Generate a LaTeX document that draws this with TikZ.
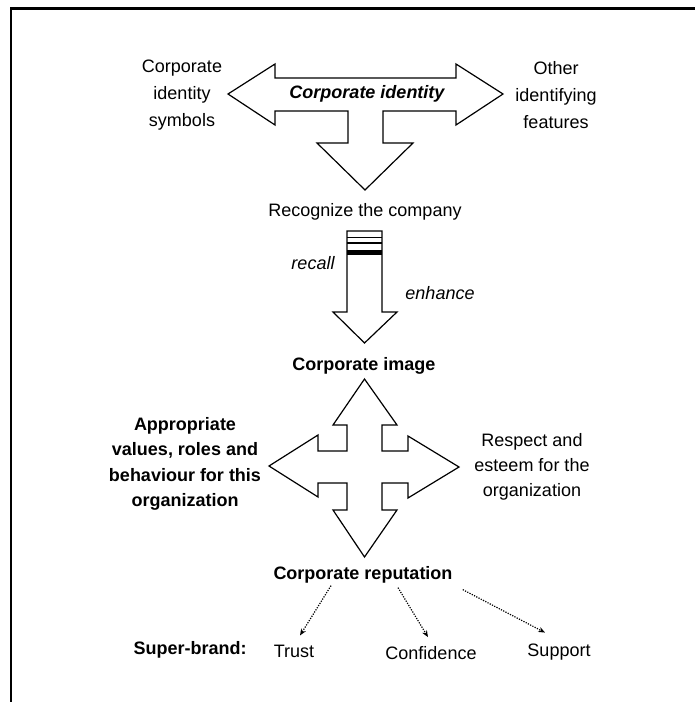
\documentclass[tikz,border=0pt]{standalone}
\usepackage{fontspec}
\setmainfont{Liberation Sans}
\usepackage{tikz}
\usetikzlibrary{arrows.meta,calc}

\tikzset{
  txt/.style={inner sep=0.75pt, align=center, font=\fontsize{13.5}{19}\selectfont},
  txtb/.style={txt, font=\fontsize{13.5}{19}\selectfont\bfseries},
  txti/.style={txt, font=\fontsize{13.5}{19}\selectfont\itshape},
  bigarrow/.style={line width=0.9pt, line join=miter, fill=white},
  dotlink/.style={densely dotted, line width=0.9pt, -{Stealth[length=5pt,width=4pt]}}
}

\begin{document}
\begin{tikzpicture}[x=0.75pt,y=0.75pt,yscale=-1,xscale=1]
\useasboundingbox (0,0) rectangle (695,702);

%Shape: Frame
\draw [line width=1.6pt] (11,702) -- (11,8.5) -- (695,8.5) ;

%Shape: T arrow [id:identity]
\draw [bigarrow] (228,94) -- (275,64) -- (275,78) -- (456,78) -- (456,64) -- (503,94) -- (456,125) -- (456,111) -- (383,111) -- (383,143) -- (413,143) -- (365,190) -- (317,143) -- (348,143) -- (348,111) -- (275,111) -- (275,125) -- cycle ;
%Shape: Down arrow [id:recall]
\draw [bigarrow] (347,231) -- (382,231) -- (382,312) -- (397,312) -- (364.5,343) -- (333,312) -- (347,312) -- cycle ;
%Shape: bars on the recall arrow
\draw [line width=0.9pt] (347,237.5) -- (382,237.5) ;
\draw [line width=0.9pt] (347,243) -- (382,243) ;
\fill (347,250) rectangle (382,255) ;
%Shape: Cross arrow [id:image]
\draw [bigarrow] (364.5,379) -- (397,425) -- (382,425) -- (382,451) -- (408,451) -- (408,436) -- (459,467) -- (408,498) -- (408,483) -- (382,483) -- (382,510) -- (397,510) -- (364.5,557) -- (333,510) -- (347,510) -- (347,483) -- (318,483) -- (318,497) -- (269,466) -- (318,435) -- (318,451) -- (347,451) -- (347,425) -- (333,425) -- cycle ;

% Text Node
\node [txt, font=\fontsize{13.5}{20}\selectfont] (symbols) at (182,95) {Corporate\\identity\\symbols};
% Text Node
\node [txt, font=\fontsize{13.5}{20}\selectfont] (features) at (556,95) {Other\\identifying\\features};
% Text Node
\node [txtb, font=\fontsize{13.5}{19}\selectfont\bfseries\itshape] (identity) at (367,94) {Corporate identity};
% Text Node
\node [txt] (recognize) at (365,212) {Recognize the company};
% Text Node
\node [txti] (recall) at (313,263) {recall};
% Text Node
\node [txti] (enhance) at (440,293) {enhance};
% Text Node
\node [txtb] (image) at (364,366) {Corporate image};
% Text Node
\node [txtb] (values) at (185,464) {Appropriate\\values, roles and\\behaviour for this\\organization};
% Text Node
\node [txt] (esteem) at (532,467) {Respect and\\esteem for the\\organization};
% Text Node
\node [txtb] (reputation) at (363,575) {Corporate reputation};
% Text Node
\node [txtb] (superbrand) at (190,650) {Super-brand:};
% Text Node
\node [txt] (trust) at (294,651) {Trust};
% Text Node
\node [txt] (confidence) at (431,653) {Confidence};
% Text Node
\node [txt] (support) at (559,652) {Support};

% Links
\draw [dotlink] ($(reputation.south)+(-32,1)$) -- ($(trust.north)+(6,-8)$) ;
\draw [dotlink] ($(reputation.south)+(35,3)$) -- ($(confidence.north)+(-3,-8)$) ;
\draw [dotlink] ($(reputation.south east)+(9,5)$) -- ($(support.north)+(-14,-10)$) ;

\end{tikzpicture}
\end{document}
